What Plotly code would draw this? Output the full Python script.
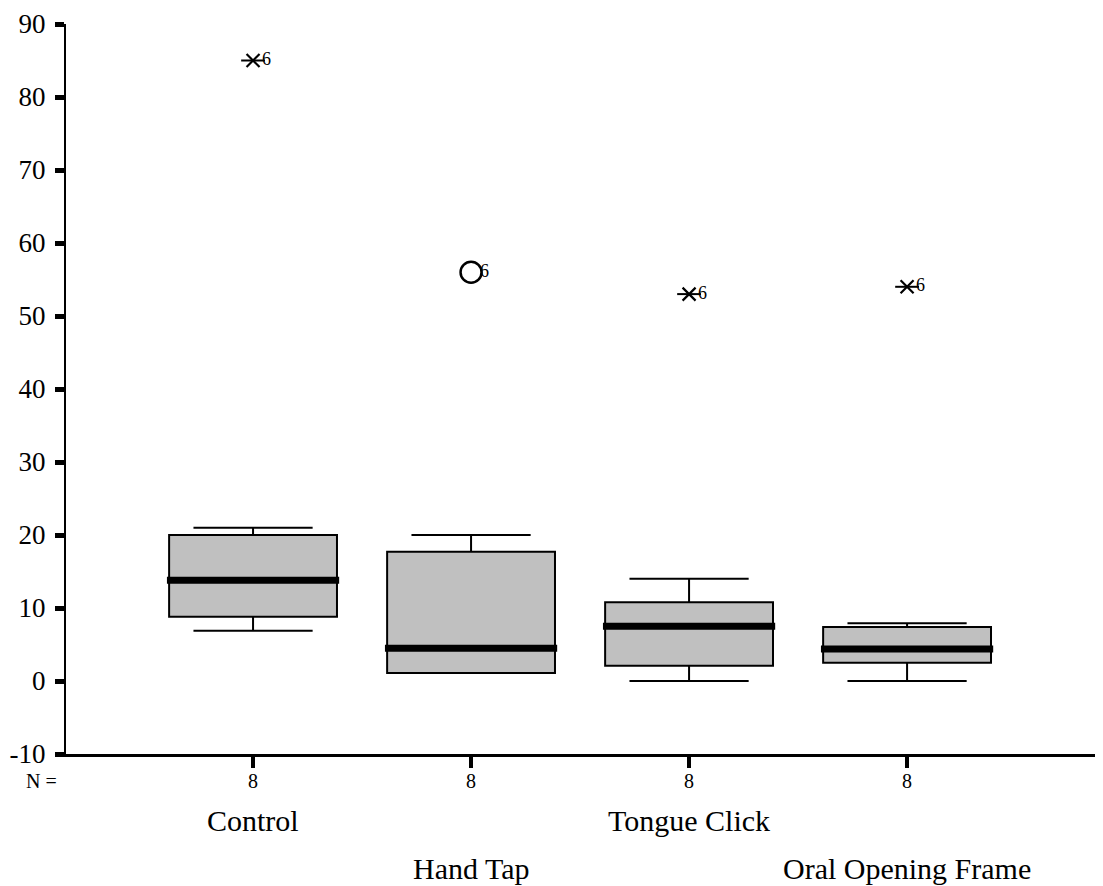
import plotly.graph_objects as go

categories = ["Control", "Hand Tap", "Tongue Click", "Oral Opening Frame"]
n_counts = [8, 8, 8, 8]
lower_whisker = [6.9, 1.1, 0.0, 0.0]
q1 = [8.8, 1.1, 2.1, 2.5]
median = [13.8, 4.5, 7.5, 4.4]
q3 = [20.0, 17.7, 10.8, 7.4]
upper_whisker = [21.0, 20.0, 14.0, 7.9]
outlier_values = [85, 56, 53, 54]
outlier_kind = ["extreme", "outlier", "extreme", "extreme"]
outlier_case = ["6", "6", "6", "6"]
y_ticks = list(range(-10, 91, 10))
y_tick_text = [str(v) for v in y_ticks]

pos = [i + 1 for i in range(len(categories))]
BOX_W = 0.77
SERIF = "Liberation Serif, Times New Roman, serif"

fig = go.Figure()

fig.add_trace(go.Box(
    x=pos, q1=q1, median=median, q3=q3,
    lowerfence=lower_whisker, upperfence=upper_whisker,
    width=BOX_W, whiskerwidth=0.71,
    fillcolor="#c0c0c0", line=dict(color="black", width=2),
    boxpoints=False, showlegend=False, hoverinfo="skip",
))

# thick median lines
mx, my = [], []
for p, m in zip(pos, median):
    mx += [p - BOX_W / 2 - 0.01, p + BOX_W / 2 + 0.01, None]
    my += [m, m, None]
fig.add_trace(go.Scatter(x=mx, y=my, mode="lines",
                         line=dict(color="black", width=7), showlegend=False,
                         hoverinfo="skip"))

# outliers
ext_x = [p for p, k in zip(pos, outlier_kind) if k == "extreme"]
ext_y = [v for v, k in zip(outlier_values, outlier_kind) if k == "extreme"]
out_x = [p for p, k in zip(pos, outlier_kind) if k == "outlier"]
out_y = [v for v, k in zip(outlier_values, outlier_kind) if k == "outlier"]
fig.add_trace(go.Scatter(x=ext_x, y=ext_y, mode="markers",
                         marker=dict(symbol="x-thin-open", size=13, color="black",
                                     line=dict(color="black", width=2.2)),
                         showlegend=False, hoverinfo="skip"))
fig.add_trace(go.Scatter(x=ext_x, y=ext_y, mode="markers",
                         marker=dict(symbol="line-ew-open", size=17, color="black",
                                     line=dict(color="black", width=2)),
                         showlegend=False, hoverinfo="skip"))
fig.add_trace(go.Scatter(x=out_x, y=out_y, mode="markers",
                         marker=dict(symbol="circle-open", size=21, color="black",
                                     line=dict(color="black", width=2.5)),
                         showlegend=False, hoverinfo="skip"))
fig.add_trace(go.Scatter(x=pos, y=outlier_values, mode="text",
                         text=["  " + c for c in outlier_case],
                         textposition="middle right",
                         textfont=dict(family=SERIF, size=18, color="black"),
                         showlegend=False, hoverinfo="skip"))

annotations = []
for p, n in zip(pos, n_counts):
    annotations.append(dict(x=p, xref="x", y=0, yref="paper", yanchor="middle",
                            xanchor="center", yshift=-27, text=str(n),
                            showarrow=False,
                            font=dict(family=SERIF, size=20, color="black")))
for i, (p, c) in enumerate(zip(pos, categories)):
    annotations.append(dict(x=p, xref="x", y=0, yref="paper", yanchor="middle",
                            xanchor="center",
                            yshift=-66 if i % 2 == 0 else -114, text=c,
                            showarrow=False,
                            font=dict(family=SERIF, size=30, color="black")))
annotations.append(dict(x=0, xref="paper", xshift=-25, xanchor="center",
                        y=0, yref="paper", yanchor="middle", yshift=-27,
                        text="N =", showarrow=False,
                        font=dict(family=SERIF, size=20, color="black")))

# the page body has an 8px margin, so the figure is shrunk and offset accordingly
fig.update_layout(
    width=1095, height=878,
    margin=dict(l=58, r=8, t=16, b=132, autoexpand=False),
    plot_bgcolor="white", paper_bgcolor="white",
    annotations=annotations,
    xaxis=dict(range=[0.142, 4.862], tickvals=pos, showticklabels=False,
               showgrid=False, zeroline=False, showline=True, linecolor="black",
               linewidth=2.5, ticks="outside", ticklen=11, tickwidth=4,
               tickcolor="black"),
    yaxis=dict(range=[-10, 90], tickvals=y_ticks, ticktext=y_tick_text,
               showgrid=False, zeroline=False,
               showline=True, linecolor="black", linewidth=2, ticks="outside",
               ticklen=9, tickwidth=5, tickcolor="black",
               tickfont=dict(family=SERIF, size=27, color="black"),
               ticklabelstandoff=4),
)

fig.write_html("out.html")
